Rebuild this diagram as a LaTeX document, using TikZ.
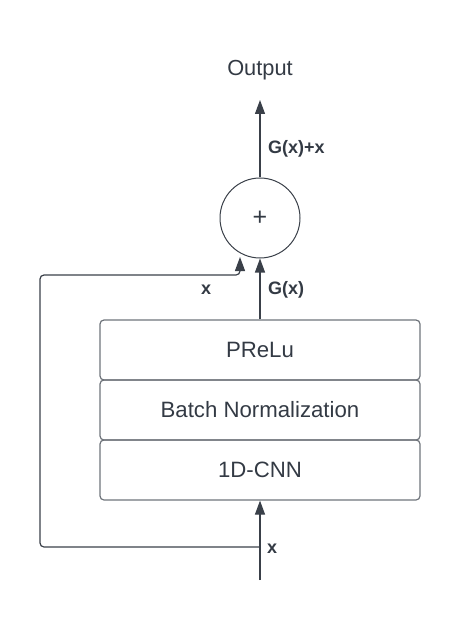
\documentclass[tikz,border=0pt]{standalone}
\usepackage{fontspec}
\setmainfont{Liberation Sans}
\usetikzlibrary{arrows.meta}
\definecolor{linec}{HTML}{3A4049}
\definecolor{boxc}{HTML}{6F747B}
\definecolor{txtc}{HTML}{333A44}
\tikzset{
  arr/.style={draw=linec, line width=1.2pt, -{Triangle[length=14pt,width=10pt]}},
  ln/.style={draw=linec, line width=1.2pt},
  layer/.style={draw=boxc, line width=1.2pt, rounded corners=4pt, minimum width=320pt, minimum height=60pt, inner sep=0pt, text=txtc, font=\fontsize{22.2}{25}\selectfont},
  lbl/.style={text=txtc, font=\fontsize{18}{21}\selectfont\bfseries, inner sep=0pt},
}
\begin{document}
\begin{tikzpicture}[x=1pt, y=-1pt]
\useasboundingbox (0,0) rectangle (460,620);
\node[layer] (prelu) at (260,350) {PReLu};
\node[layer] (bn) at (260,410) {Batch Normalization};
\node[layer] (cnn) at (260,470) {1D-CNN};
\node[circle, draw=linec, line width=1pt, minimum size=80pt, inner sep=0pt, text=txtc, font=\fontsize{25}{28}\selectfont] (plus) at (260,218) {+};
\node[anchor=base, text=txtc, font=\fontsize{21.8}{24}\selectfont, inner sep=0pt] (out) at (260,76) {Output};
\coordinate (outtip) at (260,100);
\coordinate (in) at (260,580);
\coordinate (junc) at (260,547);
\coordinate (skiptip) at (240,257);
\draw[arr] (plus.north) -- (outtip);
\draw[arr] (prelu.north) -- (plus.south);
\draw[arr] (in) -- (cnn.south);
\draw[arr, rounded corners=4pt] (junc) -- (40,547) -- (40,275) -- (240,275) -- (skiptip);
\node[lbl, anchor=base west] (lsum) at (268,154) {G(x)+x};
\node[lbl, anchor=base west] (lg) at (268,294.5) {G(x)};
\node[lbl, anchor=base west] (lx1) at (201,294) {x};
\node[lbl, anchor=base west] (lx2) at (267,553) {x};
\end{tikzpicture}
\end{document}
